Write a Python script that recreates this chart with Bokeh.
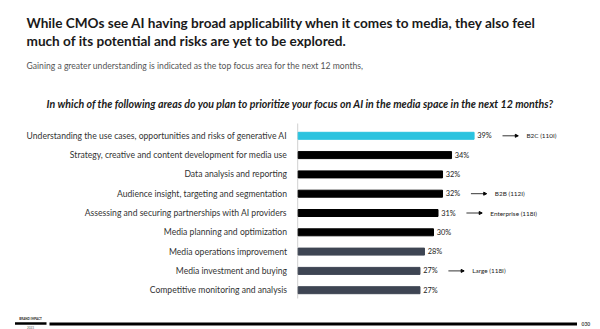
from bokeh.plotting import figure
from bokeh.models import Range1d, ColumnDataSource, Arrow, NormalHead
from bokeh.core.properties import value
from bokeh.embed import file_html
from bokeh.resources import INLINE

# ---------------- data ----------------
categories = [
    "Understanding the use cases, opportunities and risks of generative AI",
    "Strategy, creative and content development for media use",
    "Data analysis and reporting",
    "Audience insight, targeting and segmentation",
    "Assessing and securing partnerships with AI providers",
    "Media planning and optimization",
    "Media operations improvement",
    "Media investment and buying",
    "Competitive monitoring and analysis",
]
values = [39, 34, 32, 32, 31, 30, 28, 27, 27]
bar_groups = ["top", "high", "high", "high", "high", "high", "low", "low", "low"]
callout_rows = [0, 3, 4, 7]
callout_texts = ["B2C (110I)", "B2B (112I)", "Enterprise (118I)", "Large (118I)"]

title_lines = [
    "While CMOs see AI having broad applicability when it comes to media, they also feel",
    "much of its potential and risks are yet to be explored.",
]
subtitle = "Gaining a greater understanding is indicated as the top focus area for the next 12 months,"
question = "In which of the following areas do you plan to prioritize your focus on AI in the media space in the next 12 months?"
page_no = "030"

# ---------------- layout helpers (pixel -> data) ----------------
W, H = 600, 329
X0_PX, PX_PER_PCT = 297.7, 4.51
Y0_PX, ROW_PX = 135.3, 19.3


def px2x(px):
    return (px - X0_PX) / PX_PER_PCT


def px2y(py):
    return (py - Y0_PX) / ROW_PX


group_colors = {"top": "#2bc3df", "high": "#000000", "low": "#3e4553"}
FONT = "Lato"

p = figure(width=W, height=H, output_backend="svg", toolbar_location=None,
           x_range=Range1d(px2x(0), px2x(W)), y_range=Range1d(px2y(H), px2y(0)),
           min_border=0)
p.axis.visible = False
p.grid.visible = False
p.outline_line_color = None
p.background_fill_color = "white"
p.border_fill_color = "white"

rows = list(range(len(categories)))
src = ColumnDataSource(dict(
    y=rows, v=values, cat=categories,
    color=[group_colors[g] for g in bar_groups],
    lbl=[f"{v}%" for v in values],
    lx=[v + 0.7 for v in values],
))

# axis line
p.segment(x0=[px2x(297.2)], x1=[px2x(297.2)], y0=[px2y(123)], y1=[px2y(298)],
          line_color="#d0d0d0", line_width=1)

p.hbar(y="y", left=0, right="v", height=7 / ROW_PX, color="color", source=src)

p.text(x=px2x(286.5), y="y", text="cat", source=src, text_align="right",
       text_baseline="middle", text_font=value(FONT), text_font_size="8.6px",
       text_color="#333333")
p.text(x="lx", y="y", text="lbl", source=src, text_align="left",
       text_baseline="middle", text_font=value(FONT), text_font_size="7.4px",
       text_color="#222222")

# callouts
for r, t in zip(callout_rows, callout_texts):
    v = values[r]
    xs = v + 6.3
    xe = xs + 3.5
    p.add_layout(Arrow(end=NormalHead(size=3, fill_color="black", line_color="black"),
                       x_start=xs, y_start=r, x_end=xe, y_end=r,
                       line_color="black", line_width=0.8))
    p.text(x=[xe + 1.8], y=[r], text=[t], text_align="left", text_baseline="middle",
           text_font=value(FONT), text_font_size="6.4px", text_color="#222222")

# titles
for i, line in enumerate(title_lines):
    p.text(x=[px2x(26)], y=[px2y(22 + 18 * i)], text=[line], text_align="left",
           text_baseline="middle", text_font=value(FONT), text_font_size="13.6px",
           text_font_style="bold", text_color="#1a1a1a")
p.text(x=[px2x(26)], y=[px2y(65.5)], text=[subtitle], text_align="left",
       text_baseline="middle", text_font=value(FONT), text_font_size="8.6px",
       text_color="#555555")
p.text(x=[px2x(300)], y=[px2y(103)], text=[question], text_align="center",
       text_baseline="middle", text_font=value(FONT), text_font_size="10.6px",
       text_font_style="bold italic", text_color="#1a1a1a")

# footer
p.segment(x0=[px2x(49)], x1=[px2x(576.5)], y0=[px2y(323.5)], y1=[px2y(323.5)],
          line_color="black", line_width=3)
p.segment(x0=[px2x(14.5)], x1=[px2x(46)], y0=[px2y(323)], y1=[px2y(323)],
          line_color="black", line_width=2.5)
p.text(x=[px2x(30)], y=[px2y(318.5)], text=["BRAND IMPACT"], text_align="center",
       text_baseline="middle", text_font=value(FONT), text_font_size="3px",
       text_font_style="bold", text_color="#222222")
p.text(x=[px2x(30)], y=[px2y(327)], text=["2023"], text_align="center",
       text_baseline="middle", text_font=value(FONT), text_font_size="3px",
       text_color="#555555")
p.text(x=[px2x(581)], y=[px2y(323.5)], text=[page_no], text_align="left",
       text_baseline="middle", text_font=value(FONT), text_font_size="5px",
       text_font_style="bold", text_color="#444444")

open("out.html", "w").write(file_html(p, INLINE))
